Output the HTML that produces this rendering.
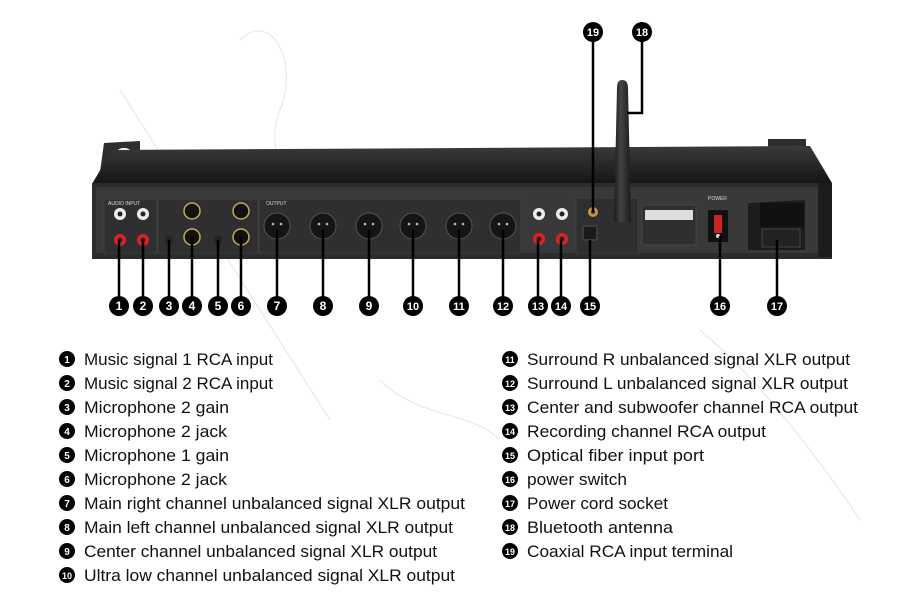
<!DOCTYPE html>
<html><head><meta charset="utf-8"><style>
html,body{margin:0;padding:0;background:#fff;}
svg{display:block}
text{font-family:"Liberation Sans",sans-serif;}
</style></head><body>
<svg width="900" height="613" viewBox="0 0 900 613" xmlns="http://www.w3.org/2000/svg">
<defs>
<linearGradient id="top" x1="0" y1="0" x2="0" y2="1">
<stop offset="0" stop-color="#3a3a3d"/><stop offset="1" stop-color="#151517"/>
</linearGradient>
<linearGradient id="ant" x1="0" y1="0" x2="1" y2="0">
<stop offset="0" stop-color="#1c1c1e"/><stop offset="0.4" stop-color="#444447"/><stop offset="1" stop-color="#1a1a1c"/>
</linearGradient>
</defs>
<rect width="900" height="613" fill="#fff"/>
<g fill="none" stroke="#e8e8e8" stroke-width="1.2">
<path d="M240 40 C270 10 300 60 280 110 C260 160 300 200 340 180"/>
<path d="M120 90 L330 420"/>
<path d="M380 380 C420 420 470 410 500 440"/>
<path d="M700 330 C760 380 820 460 860 520"/>
</g>
<!-- ears -->
<path d="M104 143 L140 141 L140 170 L100 172 Z" fill="#2e2e30"/>
<ellipse cx="124" cy="152" rx="7" ry="4" fill="#fff"/>
<path d="M768 139 L806 139 L806 170 L768 170 Z" fill="#2e2e30"/>
<ellipse cx="795" cy="150" rx="7" ry="4" fill="#fff"/>
<!-- top panel -->
<path d="M112 150 L810 146 L832 183 L92 184 Z" fill="url(#top)"/>
<!-- front face -->
<rect x="92" y="183" width="740" height="76" fill="#2c2c2e"/>
<rect x="96" y="187" width="722" height="66" fill="#39393b"/>
<rect x="818" y="183" width="14" height="74" fill="#1c1c1e"/>
<rect x="104" y="199" width="53" height="54" fill="#2f2f31" stroke="#4a4a4c" stroke-width="0.6"/>
<rect x="158" y="199" width="100" height="54" fill="#2f2f31" stroke="#4a4a4c" stroke-width="0.6"/>
<rect x="259" y="199" width="262" height="54" fill="#2f2f31" stroke="#4a4a4c" stroke-width="0.6"/>
<rect x="576" y="198" width="62" height="55" fill="#2f2f31" stroke="#4a4a4c" stroke-width="0.6"/>
<rect x="642" y="205" width="54" height="40" fill="#2f2f31" stroke="#555" stroke-width="0.6"/>
<text x="108" y="205" font-size="5" fill="#ddd">AUDIO INPUT</text>
<text x="266" y="205" font-size="5" fill="#ddd">OUTPUT</text>
<circle cx="120" cy="214" r="6" fill="#eee"/><circle cx="120" cy="214" r="2.5" fill="#222"/>
<circle cx="143" cy="214" r="6" fill="#eee"/><circle cx="143" cy="214" r="2.5" fill="#222"/>
<circle cx="120" cy="240" r="6" fill="#d22"/><circle cx="120" cy="240" r="2.5" fill="#222"/>
<circle cx="143" cy="240" r="6" fill="#d22"/><circle cx="143" cy="240" r="2.5" fill="#222"/>
<g fill="#111" stroke="#c9a85a" stroke-width="1.5">
<circle cx="192" cy="211" r="8"/><circle cx="192" cy="237" r="8"/>
<circle cx="241" cy="211" r="8"/><circle cx="241" cy="237" r="8"/>
</g>
<circle cx="169" cy="240" r="4" fill="#222"/><circle cx="218" cy="240" r="4" fill="#222"/>
<g fill="#151516" stroke="#555" stroke-width="1">
<circle cx="277" cy="226" r="13"/><circle cx="323" cy="226" r="13"/><circle cx="369" cy="226" r="13"/>
<circle cx="413" cy="226" r="13"/><circle cx="459" cy="226" r="13"/><circle cx="503" cy="226" r="13"/>
</g>
<g fill="#bbb">
<circle cx="273" cy="224" r="1.3"/><circle cx="281" cy="224" r="1.3"/>
<circle cx="319" cy="224" r="1.3"/><circle cx="327" cy="224" r="1.3"/>
<circle cx="365" cy="224" r="1.3"/><circle cx="373" cy="224" r="1.3"/>
<circle cx="409" cy="224" r="1.3"/><circle cx="417" cy="224" r="1.3"/>
<circle cx="455" cy="224" r="1.3"/><circle cx="463" cy="224" r="1.3"/>
<circle cx="499" cy="224" r="1.3"/><circle cx="507" cy="224" r="1.3"/>
</g>
<circle cx="539" cy="214" r="6" fill="#eee"/><circle cx="539" cy="214" r="2.5" fill="#222"/>
<circle cx="562" cy="214" r="6" fill="#eee"/><circle cx="562" cy="214" r="2.5" fill="#222"/>
<circle cx="539" cy="239" r="6" fill="#d22"/><circle cx="539" cy="239" r="2.5" fill="#222"/>
<circle cx="562" cy="239" r="6" fill="#d22"/><circle cx="562" cy="239" r="2.5" fill="#222"/>
<circle cx="593" cy="212" r="5" fill="#c9953f"/><circle cx="593" cy="212" r="2" fill="#333"/>
<rect x="583" y="226" width="14" height="14" rx="2" fill="#1a1a1a" stroke="#555"/>
<rect x="645" y="210" width="48" height="10" fill="#ddd"/>
<rect x="708" y="210" width="20" height="32" fill="#111"/>
<rect x="714" y="215" width="8" height="18" fill="#c22"/>
<circle cx="718" cy="236" r="2" fill="#ddd"/>
<text x="708" y="200" font-size="5" fill="#ddd">POWER</text>
<path d="M748 203 L805 200 L805 250 L748 250 Z" fill="#1c1c1e"/>
<rect x="760" y="203" width="44" height="24" fill="#111"/>
<rect x="762" y="229" width="38" height="18" fill="#222" stroke="#444"/>
<!-- antenna -->
<path d="M617 88 Q617 80 622 80 Q628 80 628 88 L631 222 L614 222 Z" fill="url(#ant)"/>
<g stroke="#000" stroke-width="2.5" fill="none">
<path d="M119 240 V306"/><path d="M143 240 V306"/><path d="M169 240 V306"/><path d="M192 237 V306"/>
<path d="M218 240 V306"/><path d="M241 237 V306"/><path d="M277 230 V306"/><path d="M323 230 V306"/>
<path d="M369 230 V306"/><path d="M413 230 V306"/><path d="M459 230 V306"/><path d="M503 230 V306"/>
<path d="M538 240 V306"/><path d="M561 240 V306"/><path d="M590 240 V306"/>
<path d="M720 236 V306"/><path d="M777 240 V306"/>
<path d="M593 32 V212"/><path d="M642 32 V113 H627"/>
</g>
<g font-size="12" font-weight="bold" fill="#fff" text-anchor="middle">
<g fill="#000">
<circle cx="119" cy="306" r="10"/><circle cx="143" cy="306" r="10"/><circle cx="169" cy="306" r="10"/>
<circle cx="192" cy="306" r="10"/><circle cx="218" cy="306" r="10"/><circle cx="241" cy="306" r="10"/>
<circle cx="277" cy="306" r="10"/><circle cx="323" cy="306" r="10"/><circle cx="369" cy="306" r="10"/>
<circle cx="413" cy="306" r="10"/><circle cx="459" cy="306" r="10"/><circle cx="503" cy="306" r="10"/>
<circle cx="538" cy="306" r="10"/><circle cx="561" cy="306" r="10"/><circle cx="590" cy="306" r="10"/>
<circle cx="720" cy="306" r="10"/><circle cx="777" cy="306" r="10"/>
<circle cx="593" cy="32" r="10"/><circle cx="642" cy="32" r="10"/>
</g>
<text x="119" y="310">1</text><text x="143" y="310">2</text><text x="169" y="310">3</text>
<text x="192" y="310">4</text><text x="218" y="310">5</text><text x="241" y="310">6</text>
<text x="277" y="310">7</text><text x="323" y="310">8</text><text x="369" y="310">9</text>
<text x="413" y="310" font-size="11">10</text><text x="459" y="310" font-size="11">11</text><text x="503" y="310" font-size="11">12</text>
<text x="538" y="310" font-size="11">13</text><text x="561" y="310" font-size="11">14</text><text x="590" y="310" font-size="11">15</text>
<text x="720" y="310" font-size="11">16</text><text x="777" y="310" font-size="11">17</text>
<text x="593" y="36" font-size="11">19</text><text x="642" y="36" font-size="11">18</text>
</g>
<g fill="#000">
<circle cx="67" cy="359" r="8"/><circle cx="67" cy="383" r="8"/><circle cx="67" cy="407" r="8"/>
<circle cx="67" cy="431" r="8"/><circle cx="67" cy="455" r="8"/><circle cx="67" cy="479" r="8"/>
<circle cx="67" cy="503" r="8"/><circle cx="67" cy="527" r="8"/><circle cx="67" cy="551" r="8"/>
<circle cx="67" cy="575" r="8"/>
<circle cx="510" cy="359" r="8"/><circle cx="510" cy="383" r="8"/><circle cx="510" cy="407" r="8"/>
<circle cx="510" cy="431" r="8"/><circle cx="510" cy="455" r="8"/><circle cx="510" cy="479" r="8"/>
<circle cx="510" cy="503" r="8"/><circle cx="510" cy="527" r="8"/><circle cx="510" cy="551" r="8"/>
</g>
<g fill="#fff" font-size="10" font-weight="bold" text-anchor="middle">
<text x="67" y="363">1</text><text x="67" y="387">2</text><text x="67" y="411">3</text><text x="67" y="435">4</text>
<text x="67" y="459">5</text><text x="67" y="483">6</text><text x="67" y="507">7</text><text x="67" y="531">8</text>
<text x="67" y="555">9</text><text x="67" y="579" font-size="9">10</text>
<text x="510" y="363" font-size="9">11</text><text x="510" y="387" font-size="9">12</text><text x="510" y="411" font-size="9">13</text>
<text x="510" y="435" font-size="9">14</text><text x="510" y="459" font-size="9">15</text><text x="510" y="483" font-size="9">16</text>
<text x="510" y="507" font-size="9">17</text><text x="510" y="531" font-size="9">18</text><text x="510" y="555" font-size="9">19</text>
</g>
<g fill="#111" font-size="17">
<text x="84" y="365" textLength="189" lengthAdjust="spacingAndGlyphs">Music signal 1 RCA input</text>
<text x="84" y="389" textLength="189" lengthAdjust="spacingAndGlyphs">Music signal 2 RCA input</text>
<text x="84" y="413" textLength="145" lengthAdjust="spacingAndGlyphs">Microphone 2 gain</text>
<text x="84" y="437" textLength="143" lengthAdjust="spacingAndGlyphs">Microphone 2 jack</text>
<text x="84" y="461" textLength="145" lengthAdjust="spacingAndGlyphs">Microphone 1 gain</text>
<text x="84" y="485" textLength="143" lengthAdjust="spacingAndGlyphs">Microphone 2 jack</text>
<text x="84" y="509" textLength="381" lengthAdjust="spacingAndGlyphs">Main right channel unbalanced signal XLR output</text>
<text x="84" y="533" textLength="369" lengthAdjust="spacingAndGlyphs">Main left channel unbalanced signal XLR output</text>
<text x="84" y="557" textLength="353" lengthAdjust="spacingAndGlyphs">Center channel unbalanced signal XLR output</text>
<text x="84" y="581" textLength="371" lengthAdjust="spacingAndGlyphs">Ultra low channel unbalanced signal XLR output</text>
<text x="527" y="365" textLength="323" lengthAdjust="spacingAndGlyphs">Surround R unbalanced signal XLR output</text>
<text x="527" y="389" textLength="321" lengthAdjust="spacingAndGlyphs">Surround L unbalanced signal XLR output</text>
<text x="527" y="413" textLength="331" lengthAdjust="spacingAndGlyphs">Center and subwoofer channel RCA output</text>
<text x="527" y="437" textLength="239" lengthAdjust="spacingAndGlyphs">Recording channel RCA output</text>
<text x="527" y="461" textLength="177" lengthAdjust="spacingAndGlyphs">Optical fiber input port</text>
<text x="527" y="485" textLength="100" lengthAdjust="spacingAndGlyphs">power switch</text>
<text x="527" y="509" textLength="141" lengthAdjust="spacingAndGlyphs">Power cord socket</text>
<text x="527" y="533" textLength="146" lengthAdjust="spacingAndGlyphs">Bluetooth antenna</text>
<text x="527" y="557" textLength="206" lengthAdjust="spacingAndGlyphs">Coaxial RCA input terminal</text>
</g>
</svg>
</body></html>
